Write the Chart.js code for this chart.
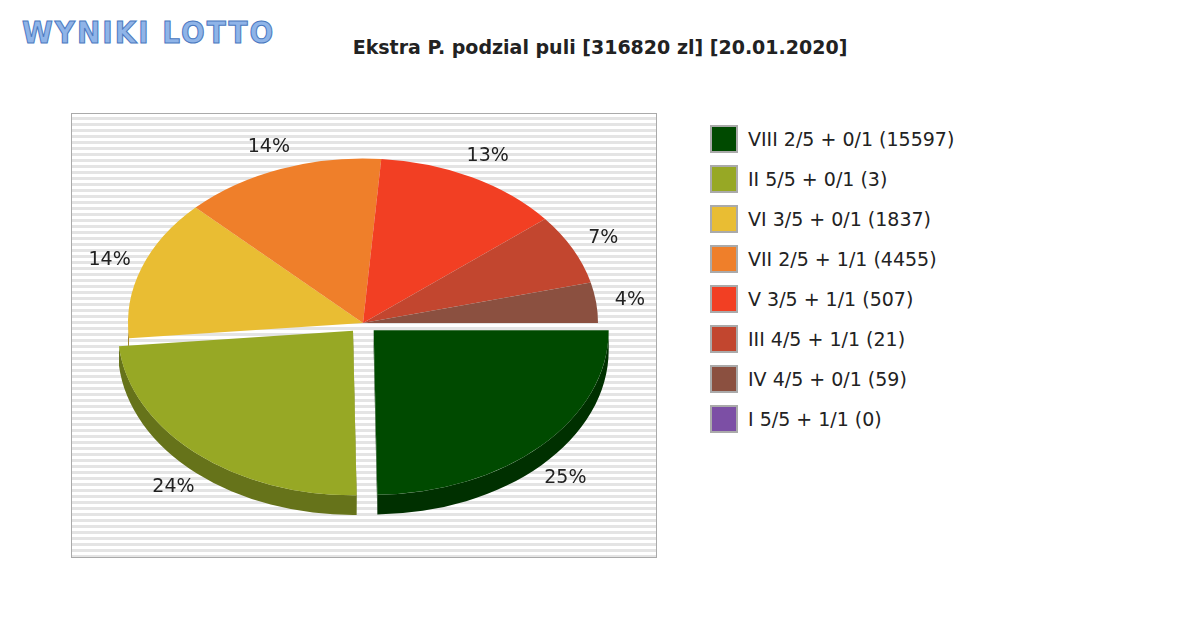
<!DOCTYPE html>
<html>
<head>
<meta charset="utf-8">
<script src="https://cdn.jsdelivr.net/npm/chart.js@4"></script>
<style>
  body { margin: 0; width: 1200px; height: 630px; background: #fff; font-family: "DejaVu Sans", sans-serif; position: relative; overflow: hidden; }
  #logo { position: absolute; left: 22px; top: 14px; font: bold 31px "DejaVu Sans Condensed", "DejaVu Sans"; color: #8fb4e8; letter-spacing: 2px; -webkit-text-stroke: 1px #4a78c0; }
  #title { position: absolute; left: 0; width: 1200px; top: 36px; text-align: center; font: bold 19px "DejaVu Sans"; color: #222; }
  #panel { position: absolute; left: 71px; top: 113px; width: 584px; height: 443px; border: 1px solid #aaa;
           background: repeating-linear-gradient(#fff 0px, #fff 3px, #e4e4e4 3px, #e4e4e4 6px); }
  #wrap { position: absolute; left: 63px; top: 23px; width: 600px; height: 600px; }
  #legend { position: absolute; left: 710px; top: 119px; font: 19px "DejaVu Sans"; color: #222; }
  .row { height: 40px; display: flex; align-items: center; }
  .box { width: 28px; height: 28px; border: 2px solid #aaa; margin-right: 10px; box-sizing: border-box; }
</style>
</head>
<body>
<div id="logo">WYNIKI LOTTO</div>
<div id="title">Ekstra P. podzial puli [316820 zl] [20.01.2020]</div>
<div id="panel"></div>
<div id="wrap"><canvas id="pie"></canvas></div>
<div id="legend"></div>
<script>
const categories = ["VIII 2/5 + 0/1 (15597)", "II 5/5 + 0/1 (3)", "VI 3/5 + 0/1 (1837)", "VII 2/5 + 1/1 (4455)",
                    "V 3/5 + 1/1 (507)", "III 4/5 + 1/1 (21)", "IV 4/5 + 0/1 (59)", "I 5/5 + 1/1 (0)"];
const shares = [25, 24, 14, 14, 13, 7, 4, 0];
const colors = ["#004a00", "#97a825", "#e9bd33", "#ef7f2a", "#f23f23", "#c2462f", "#8b5040", "#7c4fa5"];
const sideColors = ["#003000", "#66731a", "#a3842a", "#a8591d", "#a92c18", "#882f20", "#61382c", "#573873"];
const offsets = [60, 60, 0, 0, 0, 0, 0, 0]; // library draws offset/4

const SQUASH = 0.7, DEPTH = 28;

const legend = document.getElementById('legend');
categories.forEach((c, i) => {
  legend.innerHTML += '<div class="row"><div class="box" style="background:' + colors[i] + '"></div>' + c + '</div>';
});

const pie3d = {
  id: 'pie3d',
  beforeDatasetsDraw(chart) {
    const ctx = chart.ctx;
    const arcs = chart.getDatasetMeta(0).data;
    const cy = arcs[0].y;
    ctx.save();
    ctx.translate(0, cy);
    ctx.scale(1, SQUASH);
    ctx.translate(0, -cy);
    arcs.forEach((a, i) => {
      const mid = (a.startAngle + a.endAngle) / 2;
      const sh = offsets[i] / 4;
      const ox = a.x + Math.cos(mid) * sh, oy = a.y + Math.sin(mid) * sh;
      const s = Math.max(a.startAngle, 0), e = Math.min(a.endAngle, Math.PI);
      if (e <= s) return;
      const r = a.outerRadius;
      ctx.fillStyle = sideColors[i];
      ctx.beginPath();
      ctx.arc(ox, oy, r, s, e);
      ctx.lineTo(ox + Math.cos(e) * r, oy + Math.sin(e) * r + DEPTH);
      ctx.arc(ox, oy + DEPTH, r, e, s, true);
      ctx.closePath();
      ctx.fill();
      if (!offsets[i]) return;
      [a.startAngle, a.endAngle].forEach(t => {
        if (Math.abs(Math.cos(t)) < 0.2) {
          ctx.beginPath();
          ctx.moveTo(ox, oy);
          ctx.lineTo(ox + Math.cos(t) * r, oy + Math.sin(t) * r);
          ctx.lineTo(ox + Math.cos(t) * r, oy + Math.sin(t) * r + DEPTH);
          ctx.lineTo(ox, oy + DEPTH);
          ctx.closePath();
          ctx.fill();
        }
      });
    });
  },
  afterDatasetsDraw(chart) {
    const ctx = chart.ctx;
    ctx.restore();
    const arcs = chart.getDatasetMeta(0).data;
    ctx.save();
    ctx.font = '19px "DejaVu Sans"';
    ctx.fillStyle = '#222';
    ctx.textAlign = 'center';
    ctx.textBaseline = 'middle';
    arcs.forEach((a, i) => {
      if (!shares[i]) return;
      const mid = (a.startAngle + a.endAngle) / 2;
      const d = a.outerRadius + offsets[i] / 4 + 34;
      const x = a.x + Math.cos(mid) * d;
      let y = a.y + Math.sin(mid) * d * SQUASH;
      if (Math.sin(mid) > 0.2) y += DEPTH * SQUASH - 4;
      ctx.fillText(shares[i] + '%', x, y);
    });
    ctx.restore();
  }
};

new Chart(document.getElementById('pie'), {
  type: 'pie',
  data: {
    labels: categories,
    datasets: [{ data: shares, backgroundColor: colors, borderWidth: 0, offset: offsets }]
  },
  options: {
    responsive: true,
    maintainAspectRatio: false,
    animation: false,
    rotation: 90,
    layout: { padding: 35 },
    plugins: { legend: { display: false }, tooltip: { enabled: false } }
  },
  plugins: [pie3d]
});
</script>
</body>
</html>
